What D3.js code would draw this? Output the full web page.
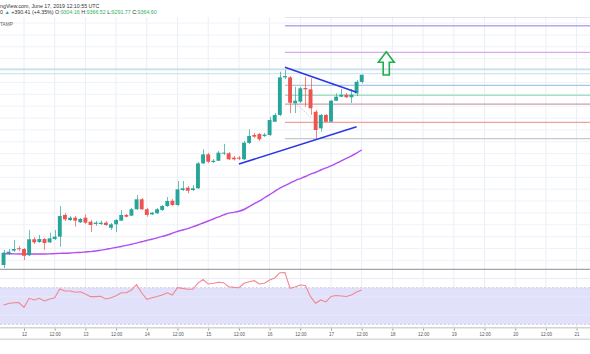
<!DOCTYPE html>
<html><head><meta charset="utf-8">
<script src="https://cdn.jsdelivr.net/npm/d3@7"></script>
<style>html,body{margin:0;padding:0;background:#fff;overflow:hidden}svg{display:block}</style>
</head><body>
<svg id="c" width="590" height="354"></svg>
<script>
// ---- DATA (2-hour candles, BTCUSD, first candle 2019-06-11 16:00 UTC) ----
const opens  = [7761,7860,7882,7902,7896,7843,7978,7955,7980,7952, 7980,8000,8183,8140,8160,8121,8160,8126,8107,8107, 8118,8075,8104,8135,8183,8177,8231,8315,8231,8188, 8197,8225,8258,8303,8267,8393,8413,8393,8408,8618, 8694,8629,8640,8701,8703,8666,8666,8652,8790,8857, 8865,8849,8857,8969,9026,9343,9343,9124,9138,9253, 9242,9053,8913,9026,8969,9146,9180,9197,9175,9208, 9304.16];
const highs  = [7888,7896,7972,7921,7904,8056,7997,8014,7989,8033, 8056,8258,8199,8174,8174,8157,8188,8140,8132,8136, 8132,8115,8149,8225,8191,8242,8351,8326,8242,8208, 8242,8267,8334,8317,8469,8469,8427,8435,8629,8736, 8705,8655,8722,8781,8714,8680,8680,8806,8905,8874, 8874,8874,9011,9042,9391,9405,9354,9264,9262,9348, 9335,9068,9034,9034,9152,9208,9245,9211,9245,9321, 9366.52];
const lows   = [7736,7845,7871,7879,7803,7837,7938,7946,7888,7946, 7972,7915,8132,8132,8084,8115,8107,8039,8090,8098, 8090,8056,8039,8132,8161,8174,8225,8225,8168,8183, 8191,8216,8250,8258,8258,8385,8365,8385,8402,8612, 8621,8621,8638,8688,8646,8642,8646,8646,8781,8832, 8806,8840,8849,8967,9017,9329,9040,9042,9127,9096, 9026,8829,8885,8967,8967,9144,9177,9169,9127,9186, 9291.77];
const closes = [7865,7873,7896,7893,7839,7978,7952,7980,7946,7986, 8000,8174,8146,8160,8135,8149,8118,8098,8118,8118, 8098,8104,8140,8183,8168,8231,8315,8231,8183,8202, 8231,8258,8301,8267,8399,8408,8387,8408,8618,8694, 8632,8640,8708,8708,8652,8652,8657,8792,8849,8843, 8821,8860,8983,9026,9343,9354,9129,9146,9251,9242, 9082,8899,9026,8969,9146,9180,9197,9175,9197,9306, 9364.60];
const maValues = [7858,7856,7855,7854,7854,7854,7854,7854,7854,7855, 7857,7859,7860,7862,7865,7867,7871,7874,7879,7886, 7893,7901,7909,7917,7926,7936,7946,7957,7968,7978, 7990,8002,8014,8029,8045,8056,8068,8083,8098,8115, 8132,8149,8166,8183,8198,8205,8214,8229,8254,8278, 8301,8328,8354,8382,8410,8431,8452,8473,8490,8507, 8527,8543,8562,8579,8596,8617,8638,8659,8680,8705, 8731];
const rsiValues = [51.1,52.7,53.6,53.8,48.6,58.4,56.6,58.4,55.5,57.7, 59.1,68.6,66.4,66.4,65.0,65.6,63.1,60.2,60.2,60.6, 57.7,59.1,61.3,64.5,64.5,67.5,73.3,64.5,57.3,59.1, 60.4,62.0,64.5,62.0,70.0,69.3,68.3,68.3,75.1,79.0, 74.0,74.8,75.9,75.5,71.1,70.4,70.0,74.8,76.6,77.7, 74.0,74.8,78.4,80.6,86.4,86.6,69.3,70.8,73.0,72.4, 60.2,53.0,56.6,54.4,60.4,61.5,60.9,60.4,62.0,65.3, 67.5];
const firstCandle = Date.UTC(2019,5,11,16);
const candleHours = 2;
const tickDays = [12,13,14,15,16,17,18,19,20,21];
const levelPrices = [9852,9778,9554,9413,9374,9276,9192,9118,8964,8827];
const levelFullWidth = [false,false,false,true,true,false,false,false,false,false];
const levelStart = Date.UTC(2019,5,16,6);
const upperTrend = [[Date.UTC(2019,5,16,6),9428],[Date.UTC(2019,5,17,10),9217]];
const lowerTrend = [[Date.UTC(2019,5,15,12),8612],[Date.UTC(2019,5,17,10),8927]];
const dottedTrend = [[Date.UTC(2019,5,16,10),9127],[Date.UTC(2019,5,16,16,30),9000]];
const rsiBand = [30,70];
const rsiGrid = [40,60,80];
const header1 = "ngView.com, June 17, 2019 12:10:55 UTC";
const header2 = {pre:"0 ", chg:" +390.41 (+4.35%) ", O:"9304.16", H:"9366.52", L:"9291.77", C:"9364.60"};

// ---- STYLES ----
const levelColors = ["#c9c9c9","#b8a6ea","#dba8ee","#b9d8ea","#cde8ec","#a9c7e2","#a6dfc6","#c9a0ab","#f0a0a0","#c8c8c8"];
const UP="#26a69a", DN="#ef5350";

const svg = d3.select("#c");
svg.append("rect").attr("width",590).attr("height",354).attr("fill","#fff");

const x = d3.scaleUtc().domain([new Date(Date.UTC(2019,5,12)), new Date(Date.UTC(2019,5,21))]).range([24,576.6]);
const y = d3.scaleLinear().domain([7800,9800]).range([260.38,23.13]);
const yr = d3.scaleLinear().domain([30,70]).range([324.3,287.7]);
const times = opens.map((_,i)=>new Date(firstCandle + i*candleHours*3600e3));
const step = x(new Date(firstCandle + candleHours*3600e3)) - x(new Date(firstCandle));
const bw = step*0.76;

const PT=17, PB=269.3, RT=270, RB=327.7;
const defs = svg.append("defs");
defs.append("clipPath").attr("id","mainclip").append("rect").attr("x",0).attr("y",PT).attr("width",590).attr("height",PB-PT);
defs.append("clipPath").attr("id","rsiclip").append("rect").attr("x",0).attr("y",RT).attr("width",590).attr("height",RB-RT);

// grid
const tickVals = [];
tickDays.forEach(d=>{tickVals.push(new Date(Date.UTC(2019,5,d))); if(d<21) tickVals.push(new Date(Date.UTC(2019,5,d,12)));});
const grid = svg.append("g");
grid.selectAll("line.v").data(tickVals).join("line").attr("class","v")
  .attr("x1",d=>x(d)).attr("x2",d=>x(d)).attr("y1",PT).attr("y2",RB)
  .attr("stroke","#e9eef6").attr("stroke-width",1);
grid.selectAll("line.h").data(d3.range(7800,9900,100)).join("line").attr("class","h")
  .attr("x1",0).attr("x2",590).attr("y1",d=>y(d)).attr("y2",d=>y(d))
  .attr("stroke","#eff2f8").attr("stroke-width",1);

// RSI pane band
const rsiG = svg.append("g").attr("clip-path","url(#rsiclip)");
rsiG.append("rect").attr("x",0).attr("width",590).attr("y",yr(rsiBand[1])).attr("height",yr(rsiBand[0])-yr(rsiBand[1])).attr("fill","#e1e1fb");
rsiG.selectAll("line.rg").data(rsiGrid).join("line").attr("class","rg")
  .attr("x1",0).attr("x2",590).attr("y1",d=>yr(d)).attr("y2",d=>yr(d)).attr("stroke","#e8eaf5").attr("stroke-width",1);
rsiG.selectAll("line.band").data(rsiBand).join("line").attr("class","band")
  .attr("x1",0).attr("x2",590).attr("y1",d=>yr(d)).attr("y2",d=>yr(d))
  .attr("stroke","#c4c4dc").attr("stroke-width",0.8).attr("stroke-dasharray","2,2");
rsiG.append("path").datum(rsiValues).attr("fill","none").attr("stroke","#f2878f").attr("stroke-width",1.1)
  .attr("d",d3.line().x((d,i)=>x(times[i])).y(d=>yr(d)));

// main pane
const main = svg.append("g").attr("clip-path","url(#mainclip)");
main.selectAll("line.lvl").data(levelPrices).join("line").attr("class","lvl")
  .attr("x1",(d,i)=>levelFullWidth[i]?0:x(new Date(levelStart))).attr("x2",590)
  .attr("y1",d=>y(d)).attr("y2",d=>y(d))
  .attr("stroke",(d,i)=>levelColors[i]).attr("stroke-width",1.3);

// MA
main.append("path").datum(maValues).attr("fill","none").attr("stroke","#b24ef0").attr("stroke-width",1.4)
  .attr("d",d3.line().curve(d3.curveMonotoneX).x((d,i)=>x(times[i])).y(d=>y(d)));

// candles
const cg = main.append("g");
const cd = opens.map((o,i)=>({t:times[i],o,h:highs[i],l:lows[i],c:closes[i]}));
cg.selectAll("line.wick").data(cd).join("line").attr("class","wick")
  .attr("x1",d=>Math.round(x(d.t))+0.5).attr("x2",d=>Math.round(x(d.t))+0.5)
  .attr("y1",d=>y(d.h)).attr("y2",d=>y(d.l))
  .attr("stroke",d=>d.c>=d.o?UP:DN).attr("stroke-width",1).attr("stroke-opacity",0.7);
cg.selectAll("rect.body").data(cd).join("rect").attr("class","body")
  .attr("x",d=>x(d.t)-bw/2).attr("width",bw)
  .attr("y",d=>y(Math.max(d.o,d.c))).attr("height",d=>Math.max(1,Math.abs(y(d.o)-y(d.c))))
  .attr("fill",d=>d.c>=d.o?UP:DN);

// trend lines
const tl = d3.line().x(d=>x(new Date(d[0]))).y(d=>y(d[1]));
main.append("path").attr("d",tl(dottedTrend)).attr("stroke","#b0b0b0").attr("stroke-width",0.9).attr("stroke-dasharray","1,1.5").attr("fill","none");
[upperTrend,lowerTrend].forEach(t=>{
  main.append("path").attr("d",tl(t)).attr("stroke","#2b36e6").attr("stroke-width",1.6).attr("fill","none");
});

// arrow (annotation in time/price)
const ac = Date.UTC(2019,5,17,21,36), H=3600e3;
const arrowPts = [[ac,9559],[ac+3.1*H,9470],[ac+1.2*H,9470],[ac+1.2*H,9363],[ac-1.2*H,9363],[ac-1.2*H,9470],[ac-3.1*H,9470]];
main.append("path").attr("d",tl(arrowPts)+"Z").attr("fill","none").attr("stroke","#20b04b").attr("stroke-width",1.6).attr("stroke-linejoin","miter");

// separators
svg.append("line").attr("x1",0).attr("x2",590).attr("y1",PB).attr("y2",PB).attr("stroke","#a3a3a3").attr("stroke-width",1.2);
svg.append("line").attr("x1",0).attr("x2",590).attr("y1",RB).attr("y2",RB).attr("stroke","#d3d3d3").attr("stroke-width",1.5);
svg.append("line").attr("x1",0).attr("x2",590).attr("y1",339.3).attr("y2",339.3).attr("stroke","#dadada").attr("stroke-width",1.5);

// x axis
const ax = d3.axisBottom(x).tickValues(tickVals)
  .tickFormat(d=>d.getUTCHours()===0 ? String(d.getUTCDate()) : "12:00").tickSize(2).tickPadding(2);
const axg = svg.append("g").attr("transform",`translate(0,${RB+0.8})`).call(ax);
axg.select(".domain").remove();
axg.selectAll("line").attr("stroke","#999");
axg.selectAll("text").attr("font-family","Liberation Sans, Arial, sans-serif").attr("font-size",4.5).attr("fill","#555");

// header
const hf = "Liberation Sans, Arial, sans-serif";
svg.append("text").attr("x",0).attr("y",7.6).attr("font-family",hf).attr("font-size",5.3).attr("fill","#333").text(header1);
const h2 = svg.append("text").attr("x",0).attr("y",14.3).attr("font-family",hf).attr("font-size",5.3).attr("fill","#333");
h2.append("tspan").text(header2.pre);
h2.append("tspan").attr("fill",UP).text("▲");
h2.append("tspan").text(header2.chg + "O:");
h2.append("tspan").attr("fill","#2fb35a").text(header2.O);
h2.append("tspan").text(" H:");
h2.append("tspan").attr("fill","#2fb35a").text(header2.H);
h2.append("tspan").text(" L:");
h2.append("tspan").attr("fill","#2fb35a").text(header2.L);
h2.append("tspan").text(" C:");
h2.append("tspan").attr("fill","#2fb35a").text(header2.C);
svg.append("text").attr("x",0).attr("y",25.8).attr("font-family",hf).attr("font-size",4.8).attr("fill","#666").text("TAMP");
</script>
</body></html>
